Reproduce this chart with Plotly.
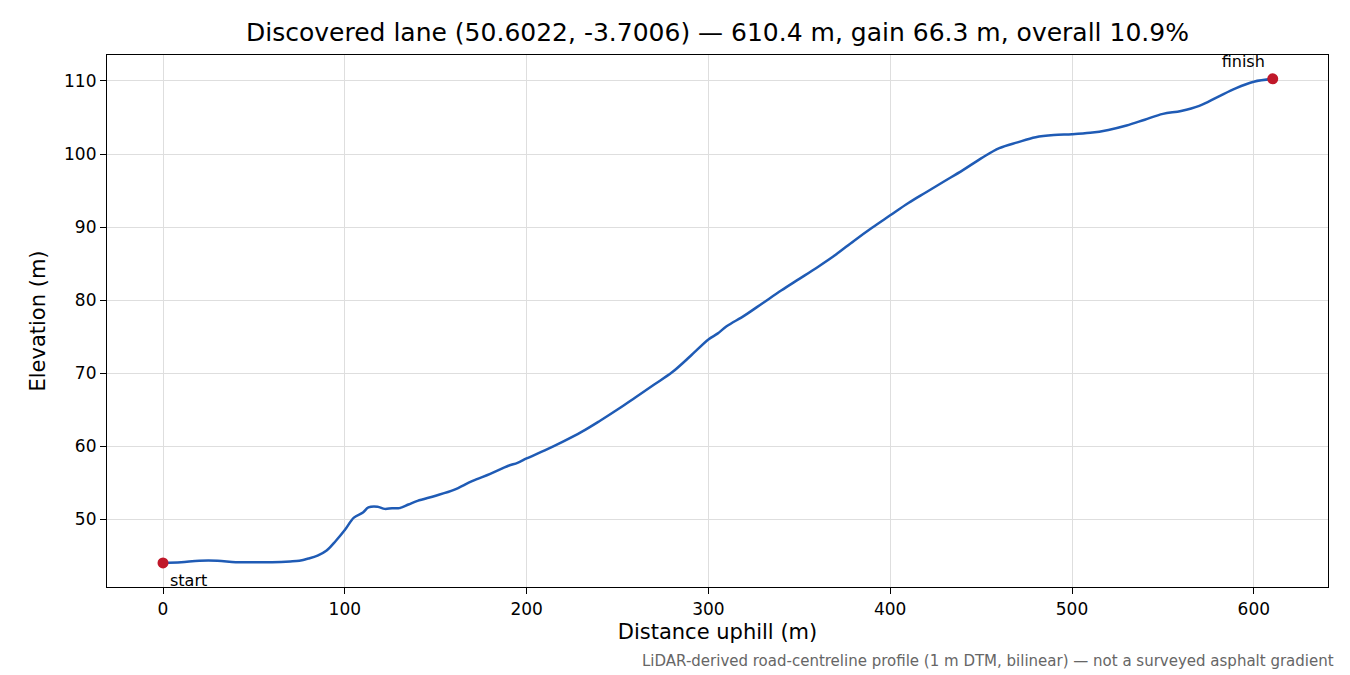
import plotly.graph_objects as go

dist = [0,10,20,30,40,50,60,70,75,80,85,90,95,100,105,110,113,118,122,126,130,135,140,150,160,170,180,190,195,200,210,220,230,240,250,260,270,280,290,300,305,310,320,330,340,350,360,370,380,390,400,410,420,430,440,450,460,470,480,490,500,510,520,530,540,550,560,570,580,590,600,610.4]
elev = [44.0,44.1,44.3,44.3,44.1,44.1,44.1,44.2,44.3,44.6,45.0,45.7,47.0,48.5,50.2,50.9,51.6,51.7,51.4,51.5,51.5,52.0,52.5,53.2,54.0,55.2,56.2,57.3,57.7,58.3,59.4,60.6,61.9,63.4,65.0,66.7,68.4,70.1,72.3,74.6,75.4,76.4,77.9,79.6,81.3,82.9,84.5,86.2,88.1,89.9,91.6,93.3,94.8,96.3,97.8,99.4,100.8,101.6,102.3,102.6,102.7,102.9,103.3,103.9,104.7,105.5,105.9,106.6,107.8,109.0,109.9,110.3]
x_ticks = [0,100,200,300,400,500,600]
y_ticks = [50,60,70,80,90,100,110]

F = "DejaVu Sans"
fig = go.Figure()
fig.add_trace(go.Scatter(x=dist, y=elev, mode="lines", line=dict(color="#1f5bb5", width=2.5), line_shape="spline", showlegend=False))
fig.add_trace(go.Scatter(x=[dist[0]], y=[elev[0]], mode="markers",
    marker=dict(color="#c0182a", size=11), showlegend=False))
fig.add_trace(go.Scatter(x=[dist[-1]], y=[elev[-1]], mode="markers+text",
    marker=dict(color="#c0182a", size=11), text=["finish"],
    textposition="top left", textfont=dict(family=F, size=16, color="black"), showlegend=False))
ax = dict(showline=True, linecolor="black", linewidth=1.2, mirror=True, ticks="outside", ticklen=6, tickwidth=1.2, tickcolor="black",
          showgrid=True, gridcolor="#dedede", zeroline=False, tickfont=dict(family=F, size=17, color="black"))
fig.update_layout(
    width=1350, height=675, plot_bgcolor="white", paper_bgcolor="white",
    margin=dict(l=99, r=30, t=47, b=96),
    title=dict(text="Discovered lane (50.6022, -3.7006) — 610.4 m, gain 66.3 m, overall 10.9%",
               xref="paper", x=0.5, xanchor="center", y=0.977, yanchor="top", font=dict(family=F, size=25, color="black")),
    xaxis=dict(ax, range=[-30.8, 640.8], tickvals=x_ticks, title=dict(text="Distance uphill (m)", font=dict(family=F, size=21, color="black"), standoff=6)),
    yaxis=dict(ax, range=[40.7, 113.56], tickvals=y_ticks, title=dict(text="Elevation (m)", font=dict(family=F, size=21, color="black"), standoff=12)),
    annotations=[
        dict(text="start", x=dist[0], y=elev[0], xref="x", yref="y", xanchor="left", yanchor="top",
             xshift=5, yshift=-6, showarrow=False, font=dict(family=F, size=16, color="black")),
        dict(text="LiDAR-derived road-centreline profile (1 m DTM, bilinear) — not a surveyed asphalt gradient",
                      xref="paper", yref="paper", x=1.0066, y=-0.118, xanchor="right", yanchor="top", showarrow=False,
                      font=dict(family=F, size=15, color="#666666"))],
)
fig.write_html("out.html")
